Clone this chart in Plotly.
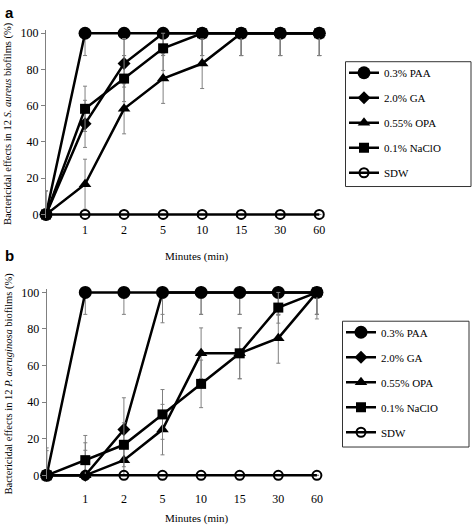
import plotly.graph_objects as go

minutes = ["0", "1", "2", "5", "10", "15", "30", "60"]
names = ["0.3% PAA", "2.0% GA", "0.55% OPA", "0.1% NaClO", "SDW"]

# Panel a: S. aureus
a_paa = [0, 100, 100, 100, 100, 100, 100, 100]
a_ga = [0, 50, 83.3, 100, 100, 100, 100, 100]
a_opa = [0, 16.7, 58.3, 75, 83.3, 100, 100, 100]
a_naclo = [0, 58.3, 75, 91.7, 100, 100, 100, 100]
a_sdw = [0, 0, 0, 0, 0, 0, 0, 0]
a_paa_up = [0, 0, 0, 0, 0, 0, 0, 0]
a_paa_dn = [0, 12.3, 12.3, 12.3, 12.3, 12.3, 12.3, 12.3]
a_ga_up = [13, 13, 13.8, 0, 0, 0, 0, 0]
a_ga_dn = [0, 13, 13, 12.3, 12.3, 12.3, 12.3, 12.3]
a_opa_up = [13, 13.8, 13.8, 13.7, 13.8, 0, 0, 0]
a_opa_dn = [0, 13.8, 13.8, 13.7, 13.8, 12.3, 12.3, 12.3]
a_naclo_up = [0, 12.5, 12.7, 8.3, 0, 0, 0, 0]
a_naclo_dn = [0, 12.5, 12.7, 12.2, 12.3, 12.3, 12.3, 12.3]
a_sdw_up = [0, 0, 0, 0, 0, 0, 0, 0]
a_sdw_dn = [0, 0, 0, 0, 0, 0, 0, 0]

# Panel b: P. aeruginosa
b_paa = [0, 100, 100, 100, 100, 100, 100, 100]
b_ga = [0, 0, 25, 100, 100, 100, 100, 100]
b_opa = [0, 0, 8.3, 25, 66.7, 66.7, 75, 100]
b_naclo = [0, 8.3, 16.7, 33.3, 50, 66.7, 91.7, 100]
b_sdw = [0, 0, 0, 0, 0, 0, 0, 0]
b_paa_up = [0, 0, 0, 0, 0, 0, 0, 0]
b_paa_dn = [0, 12, 12, 12, 12, 12, 12, 12]
b_ga_up = [13.5, 13.7, 17.4, 0, 0, 0, 0, 0]
b_ga_dn = [0, 0, 17.4, 16.6, 12, 12, 12, 12]
b_opa_up = [15, 17.8, 8.3, 13.8, 13.9, 13.9, 12.5, 0]
b_opa_dn = [0, 0, 8.3, 13.8, 13.9, 13.9, 13.7, 14.5]
b_naclo_up = [0, 13.5, 12, 13.6, 13, 13.9, 8.3, 0]
b_naclo_dn = [0, 8.3, 12, 13.6, 13, 13.9, 8.5, 12]
b_sdw_up = [0, 0, 0, 0, 0, 0, 0, 0]
b_sdw_dn = [0, 0, 0, 0, 0, 0, 0, 0]

symbols = ["circle", "diamond", "triangle-up", "square", "circle-open"]
sizes = [13, 10, 11, 10, 9]

W, H = 472, 527
SERIF = "Liberation Serif"
SANS = "Liberation Sans"

fig = go.Figure()

panels = [
    ("x", "y", "legend", [a_paa, a_ga, a_opa, a_naclo, a_sdw],
     [a_paa_up, a_ga_up, a_opa_up, a_naclo_up, a_sdw_up],
     [a_paa_dn, a_ga_dn, a_opa_dn, a_naclo_dn, a_sdw_dn]),
    ("x2", "y2", "legend2", [b_paa, b_ga, b_opa, b_naclo, b_sdw],
     [b_paa_up, b_ga_up, b_opa_up, b_naclo_up, b_sdw_up],
     [b_paa_dn, b_ga_dn, b_opa_dn, b_naclo_dn, b_sdw_dn]),
]

for xa, ya, leg, series, ups, dns in panels:
    for i in range(5):
        fig.add_trace(go.Scatter(
            x=minutes, y=series[i], xaxis=xa, yaxis=ya,
            name=names[i], legend=leg, legendgroup=leg + str(i),
            mode="lines+markers", cliponaxis=False,
            line=dict(color="black", width=2.5),
            marker=dict(symbol=symbols[i], size=sizes[i], color="black",
                        line=dict(color="black", width=2 if i == 4 else 0)),
            error_y=dict(type="data", symmetric=False, array=ups[i], arrayminus=dns[i],
                         color="#808080", thickness=1, width=2),
        ))

def px_x(p):
    return p / W

def px_y(p):
    return 1 - p / H

common_x = dict(type="category", range=[0, 7.3], showline=False, showgrid=False,
                zeroline=False, ticks="", tickvals=minutes[1:],
                tickfont=dict(family=SERIF, size=12, color="black"))
common_y = dict(range=[-2, 102], showgrid=False, zeroline=False, showline=True,
                linecolor="#808080", linewidth=1, ticks="outside", ticklen=4,
                tickcolor="#808080", tickvals=[0, 20, 40, 60, 80, 100],
                tickfont=dict(family=SERIF, size=12, color="black"))

legend_common = dict(xanchor="left", yanchor="top", borderwidth=0,
                     bgcolor="rgba(0,0,0,0)",
                     font=dict(family=SERIF, size=11, color="black"),
                     tracegroupgap=6, itemwidth=30)

fig.update_layout(
    width=W, height=H,
    margin=dict(l=0, r=0, t=0, b=0),
    paper_bgcolor="white", plot_bgcolor="white",
    showlegend=True,
    xaxis=dict(common_x, domain=[px_x(46), px_x(46 + 7.3 * 39.04)], anchor="y",
               ticklabelstandoff=3),
    yaxis=dict(common_y, domain=[px_y(218.0), px_y(27.0)], anchor="x",
               title=dict(text="Bactericidal effects in 12 <i>S. aureus</i> biofilms (%)",
                          font=dict(family=SERIF, size=10.5, color="black"), standoff=6)),
    xaxis2=dict(common_x, domain=[px_x(46.7), px_x(46.7 + 7.3 * 38.6)], anchor="y2",
                ticklabelstandoff=11),
    yaxis2=dict(common_y, domain=[px_y(482.4), px_y(289.6)], anchor="x2",
                title=dict(text="Bactericidal effects in 12 <i>P. aeruginosa</i> biofilms (%)",
                           font=dict(family=SERIF, size=10.5, color="black"), standoff=6)),
    legend=dict(legend_common, x=px_x(344), y=px_y(56)),
    legend2=dict(legend_common, x=px_x(341), y=px_y(319)),
    shapes=[
        dict(type="rect", xref="paper", yref="paper",
             x0=px_x(345.5), x1=px_x(471), y0=px_y(186), y1=px_y(59.5),
             line=dict(color="#333333", width=1), fillcolor="rgba(0,0,0,0)", layer="below"),
        dict(type="rect", xref="paper", yref="paper",
             x0=px_x(342.5), x1=px_x(469), y0=px_y(450), y1=px_y(322.5),
             line=dict(color="#333333", width=1), fillcolor="rgba(0,0,0,0)", layer="below"),
    ],
    annotations=[
        dict(text="<b>a</b>", x=px_x(3), y=px_y(-1), xref="paper", yref="paper",
             xanchor="left", yanchor="top", showarrow=False,
             font=dict(family=SANS, size=15, color="black")),
        dict(text="<b>b</b>", x=px_x(3), y=px_y(245), xref="paper", yref="paper",
             xanchor="left", yanchor="top", showarrow=False,
             font=dict(family=SANS, size=15, color="black")),
        dict(text="Minutes (min)", x=px_x(197), y=px_y(257), xref="paper", yref="paper",
             xanchor="center", yanchor="middle", showarrow=False,
             font=dict(family=SERIF, size=11, color="black")),
        dict(text="Minutes (min)", x=px_x(197), y=px_y(522.5), xref="paper", yref="paper",
             xanchor="center", yanchor="middle", showarrow=False,
             font=dict(family=SERIF, size=11, color="black")),
    ],
)

fig.write_html(
    "out.html",
    config={"displayModeBar": False},
    post_script="document.body.style.margin='0';document.body.style.overflow='hidden';",
)
